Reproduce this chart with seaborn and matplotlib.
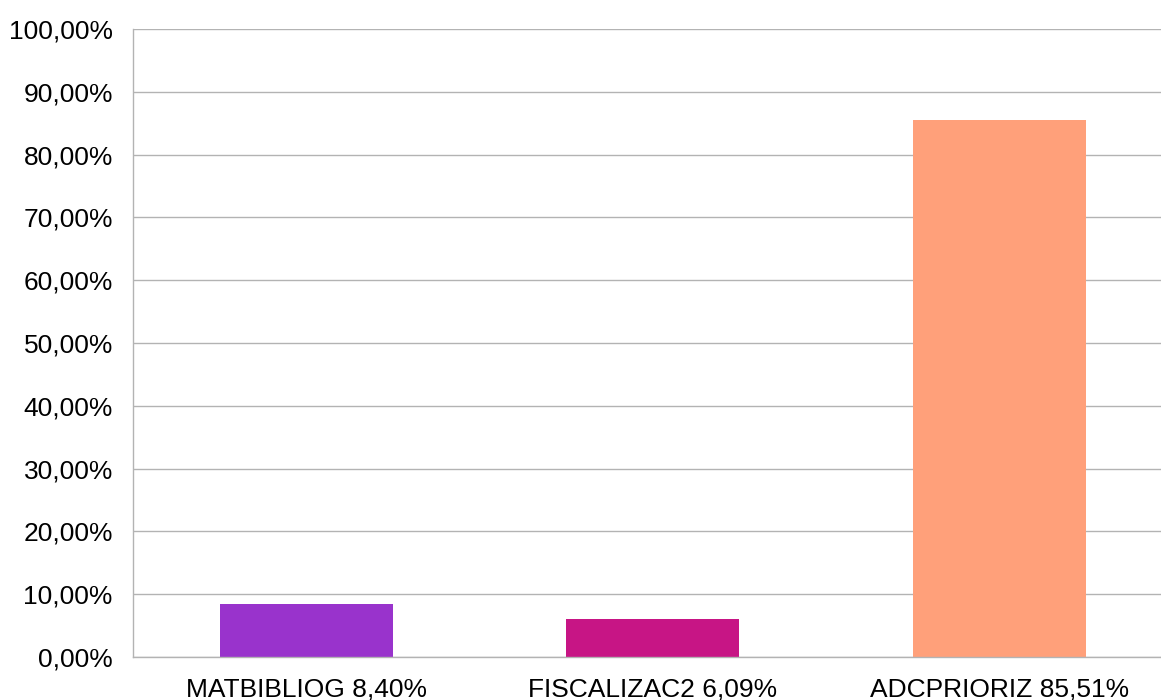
import seaborn as sns
import matplotlib.pyplot as plt
import pandas as pd
from matplotlib.ticker import FixedLocator, FuncFormatter

categories = ["MATBIBLIOG", "FISCALIZAC2", "ADCPRIORIZ"]
values = [8.40, 6.09, 85.51]
colors = ["#9933CC", "#C71585", "#FFA07A"]

df = pd.DataFrame({"cat": categories, "value": values})
df["label"] = [f"{c} {v:.2f}%".replace(".", ",") for c, v in zip(categories, values)]

sns.set_style("white")
plt.rcParams["font.family"] = ["Liberation Sans", "DejaVu Sans"]

fig = plt.figure(figsize=(11.61, 7.0), dpi=100)
# plot area runs slightly past the right edge of the image, like the original
ax = fig.add_axes([133 / 1161, 43 / 700, 1039.5 / 1161, 628 / 700])

sns.barplot(data=df, x="label", y="value", hue="label", palette=colors,
            width=0.5, saturation=1, legend=False, linewidth=0, ax=ax)

ax.set_ylim(0, 100)
ax.set_xlim(-0.5, 2.5)
ax.set_yticks(range(0, 101, 10))
ax.yaxis.set_major_formatter(FuncFormatter(lambda v, p: f"{v:.2f}%".replace(".", ",")))
ax.grid(axis="y", color="#b3b3b3", linewidth=1)
ax.set_axisbelow(True)

ax.xaxis.set_minor_locator(FixedLocator([-0.5, 0.5, 1.5, 2.5]))
ax.tick_params(axis="x", which="major", length=0, pad=15, labelsize=19, labelcolor="black")
ax.tick_params(axis="x", which="minor", length=8, width=1, color="#b3b3b3", direction="out")
ax.tick_params(axis="y", length=8.5, width=1, color="#b3b3b3", direction="out", pad=6,
               labelsize=19, labelcolor="black")

for s in ["top", "right"]:
    ax.spines[s].set_visible(False)
for s in ["left", "bottom"]:
    ax.spines[s].set_color("#b3b3b3")
    ax.spines[s].set_linewidth(1)

ax.set_xlabel("")
ax.set_ylabel("")

fig.savefig("out.png", dpi=100)
